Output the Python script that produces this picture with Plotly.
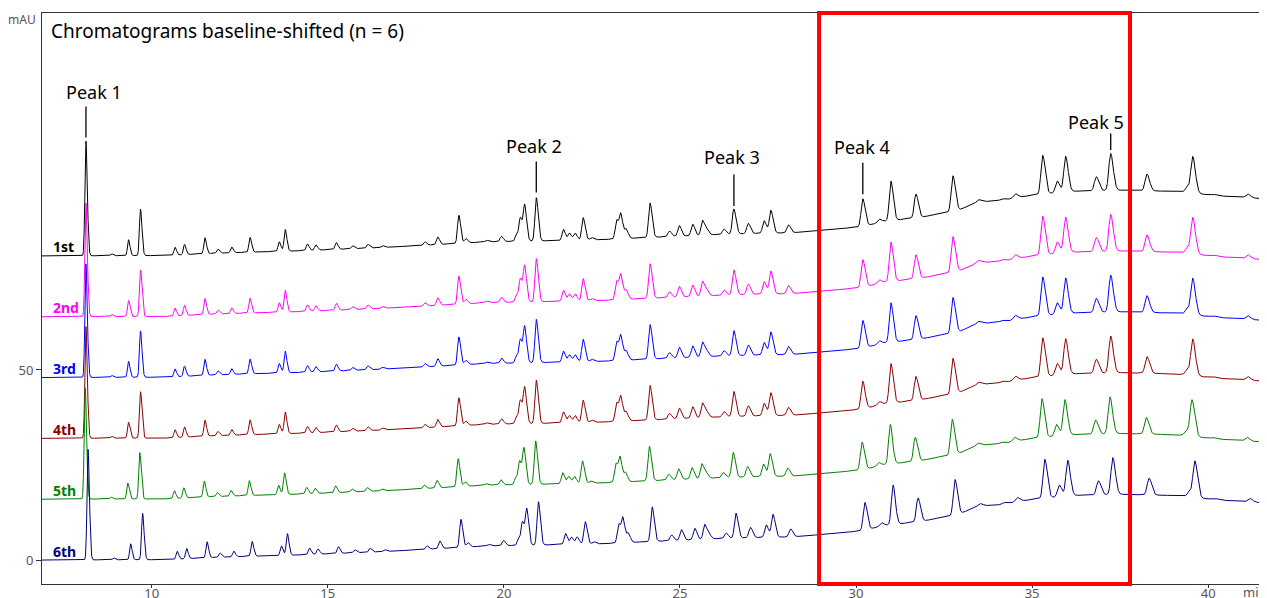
import numpy as np
import plotly.graph_objects as go

# ---------------- data ----------------
series_names = ["1st", "2nd", "3rd", "4th", "5th", "6th"]
series_offsets = [80, 64, 48, 32, 16, 0]          # mAU baseline shift
series_peak1 = [30.2, 29.9, 29.9, 29.4, 29.3, 29.1]  # height of peak 1 per run
series_rt_shift = [0.0, 0.0, 0.0, 0.0, -0.02, 0.06]  # retention time drift (min)

# peak table (retention time in min, height in mAU)
peak_times = [8.13, 8.86, 9.34, 9.68, 10.66, 10.93, 11.51, 11.875, 12.27, 12.79,
              13.62, 13.79, 14.42, 14.66, 15.24, 15.70, 16.14, 16.55, 17.76, 18.12,
              18.72, 18.92, 19.51, 19.93, 20.36, 20.47, 20.59, 20.92, 21.69, 21.86,
              22.02, 22.25, 22.49, 23.20, 23.32, 23.47, 24.15, 24.70, 24.98, 25.36,
              25.64, 25.76, 26.25, 26.53, 26.94, 27.39, 27.58, 28.08, 30.19, 30.66,
              30.99, 31.70, 32.75, 33.47, 34.14, 34.52, 35.30, 35.71, 35.95, 36.82,
              37.23, 38.26, 39.40, 39.56, 40.15, 41.12]
peak_heights = [30.0, 0.5, 4.2, 12.2, 2.1, 2.7, 4.2, 1.1, 1.5, 3.9,
                2.5, 5.7, 1.7, 1.4, 1.8, 0.8, 1.0, 0.5, 0.9, 2.0,
                7.4, 1.2, 0.4, 1.4, 2.0, 6.0, 9.2, 11.4, 2.9, 1.9,
                1.9, 5.9, 0.6, 5.0, 6.2, 2.4, 9.1, 1.5, 2.8, 3.0,
                3.9, 1.3, 1.4, 6.6, 2.7, 3.3, 6.0, 2.1, 7.2, 0.9,
                10.4, 6.3, 9.3, 0.6, 0.4, 1.1, 10.2, 3.1, 9.4, 3.7,
                9.7, 4.4, 1.3, 9.5, 0.3, 1.0]

# baseline drift (min, mAU)
baseline_times = [6.88, 10.47, 11.5, 12.8, 14.0, 15.2, 16.5, 17.76, 19.5, 21.3,
                  22.8, 24.5, 26.0, 27.0, 28.2, 29.0, 30.05, 30.4, 30.8, 31.3,
                  31.8, 32.57, 32.95, 33.47, 34.14, 34.66, 35.13, 36.16, 37.5, 38.9,
                  39.3, 40.15, 41.1, 41.7]
baseline_values = [0.0, 0.1, 0.6, 1.0, 1.3, 1.7, 2.2, 2.8, 3.7, 4.0,
                   4.3, 5.0, 5.6, 5.9, 6.1, 6.7, 7.6, 8.2, 9.1, 9.6,
                   10.1, 11.4, 12.2, 14.2, 14.6, 15.5, 16.1, 17.0, 17.3, 17.0,
                   16.8, 15.9, 15.3, 15.0]

peak_labels = ["Peak 1", "Peak 2", "Peak 3", "Peak 4", "Peak 5"]
peak_label_times = [8.13, 20.92, 26.53, 30.19, 37.23]

highlight_range = [28.95, 37.78]

series_colors = ["#000000", "#ff00ff", "#0000ff", "#8b0000", "#008000", "#000080"]

# ---------------- build traces ----------------
X_RANGE = [6.884, 41.67]
Y_RANGE = [-6.3, 143.9]
t = np.arange(X_RANGE[0], X_RANGE[1] + 0.004, 0.004)


def chromatogram(i):
    y = np.interp(t, baseline_times, baseline_values)
    for k, (pt, ph) in enumerate(zip(peak_times, peak_heights)):
        if k == 0:
            ph = series_peak1[i]
        c = pt + series_rt_shift[i]
        sl = 0.028 + 0.0008 * (pt - 8)
        sr = sl * 1.45
        s = np.where(t < c, sl, sr)
        y = y + ph * np.exp(-0.5 * ((t - c) / s) ** 2)
    return y + series_offsets[i]


FONT = "Noto Sans"
fig = go.Figure()
curves = []
for i, name in enumerate(series_names):
    y = chromatogram(i)
    curves.append(y)
    fig.add_trace(go.Scatter(x=t, y=y, mode="lines", name=name,
                             line=dict(color=series_colors[i], width=1.0),
                             showlegend=False, hoverinfo="skip"))

annotations = []
shapes = []
# series labels
for i, name in enumerate(series_names):
    annotations.append(dict(x=X_RANGE[0] + 0.25, y=series_offsets[i], xref="x", yref="y",
                            text="<b>%s</b>" % name, showarrow=False, xanchor="left",
                            yanchor="middle", yshift=9,
                            font=dict(family=FONT, size=14, color=series_colors[i])))

# peak labels with stems (gap px, stem px, text dx px, text dy px)
label_geom = [(3.5, 31, 8, 15), (5, 31, -2, 16), (3, 31.5, -2, 17), (4.5, 31.5, -1, 16), (3.5, 16.5, -15, 12)]
PX_PER_UNIT = 571 / (Y_RANGE[1] - Y_RANGE[0])
for lab, lt, (gap, ln, dx, dy) in zip(peak_labels, peak_label_times, label_geom):
    m = (t > lt - 0.1) & (t < lt + 0.1)
    j = np.argmax(np.where(m, curves[0], -1e9))
    apex = curves[0][j]
    xt = t[j]
    shapes.append(dict(type="line", xref="x", yref="y", x0=xt, x1=xt,
                       y0=apex + gap / PX_PER_UNIT, y1=apex + (gap + ln) / PX_PER_UNIT,
                       line=dict(color="black", width=1.3)))
    annotations.append(dict(x=xt, y=apex + (gap + ln) / PX_PER_UNIT, xref="x", yref="y",
                            text=lab, showarrow=False, xanchor="center", yanchor="middle",
                            xshift=dx, yshift=dy,
                            font=dict(family=FONT, size=18, color="black")))

# highlight box
shapes.append(dict(type="rect", xref="x", yref="paper", x0=highlight_range[0], x1=highlight_range[1],
                   y0=0, y1=1, line=dict(color="#ff0000", width=4), fillcolor="rgba(0,0,0,0)"))

# title / units
annotations.append(dict(x=0, y=1, xref="paper", yref="paper", text="Chromatograms baseline-shifted (n = 6)",
                        showarrow=False, xanchor="left", yanchor="middle", xshift=7, yshift=-18,
                        font=dict(family=FONT, size=19, color="black")))
annotations.append(dict(x=0, y=1, xref="paper", yref="paper", text="mAU", showarrow=False,
                        xanchor="right", yanchor="middle", xshift=-4, yshift=-6,
                        font=dict(family=FONT, size=12, color="#555555")))
annotations.append(dict(x=1, y=0, xref="paper", yref="paper", text="min", showarrow=False,
                        xanchor="left", yanchor="middle", xshift=-26, yshift=-8,
                        font=dict(family=FONT, size=13, color="#555555")))

# the page body has an 8px margin, so the figure is sized to fit the window
fig.update_layout(
    width=1259, height=590,
    margin=dict(l=34, r=0, t=5, b=14, autoexpand=False),
    paper_bgcolor="white", plot_bgcolor="white",
    font=dict(family=FONT, size=13, color="#555555"),
    annotations=annotations, shapes=shapes,
    xaxis=dict(range=X_RANGE, showgrid=False, zeroline=False, showline=True, linecolor="#333333",
               linewidth=1, mirror=True, ticks="outside", ticklen=3, tickcolor="#333333",
               automargin=False, ticklabelstandoff=-6,
               tick0=0, dtick=5, tickfont=dict(family=FONT, size=13, color="#555555")),
    yaxis=dict(range=Y_RANGE, showgrid=False, zeroline=False, showline=True, linecolor="#333333",
               linewidth=1, ticks="outside", ticklen=5, tickcolor="#333333", automargin=False,
               tickvals=[0, 50], tickfont=dict(family=FONT, size=13, color="#555555")),
)

fig.write_html("out.html")
